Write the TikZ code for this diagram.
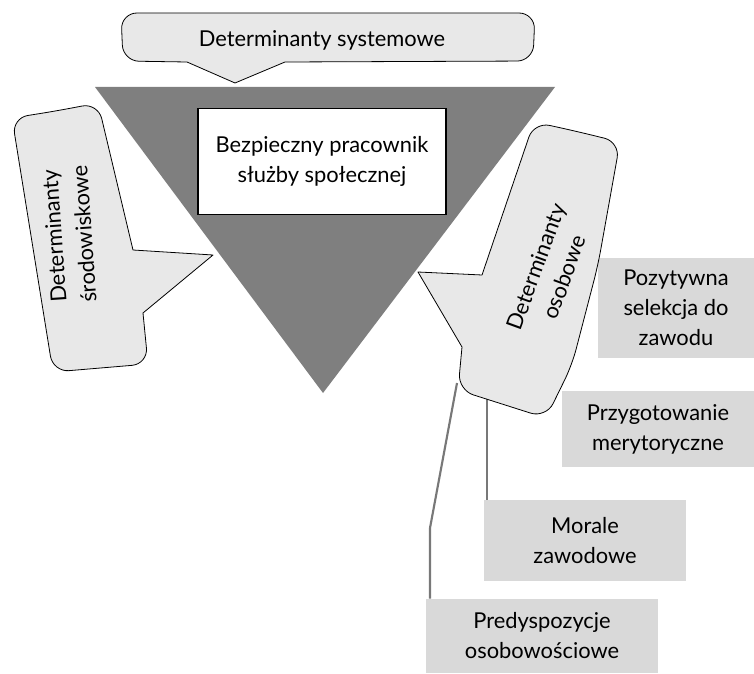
\documentclass[tikz,border=0pt]{standalone}
\usepackage{fontspec}
\setmainfont{Lato}
\usetikzlibrary{positioning,calc}
\definecolor{trigray}{RGB}{127,127,127}
\definecolor{callfill}{RGB}{232,232,232}
\definecolor{boxgray}{RGB}{217,217,217}
\definecolor{linegray}{RGB}{120,120,120}

\begin{document}
\begin{tikzpicture}[x=0.75pt,y=-0.75pt,
    txt/.style={align=center, font=\fontsize{16.4}{22.5}\selectfont},
    callout/.style={draw=black, fill=callfill, line width=0.6pt, line join=round},
    factor/.style={fill=boxgray, txt, inner sep=0pt},
    link/.style={draw=linegray, line width=1.6pt}]
  \useasboundingbox (0,0) rectangle (754,674);

  % triangle
  \fill[trigray] (95,87) -- (555,87) -- (323,393) -- cycle;

  % top callout
  \draw[callout] (330,13) [rounded corners=12pt] -- (535,13) -- (533,61)
    [sharp corners] -- (285,62) -- (235,83) -- (187,62)
    [rounded corners=12pt] -- (123,61) -- (121,13) -- cycle;
  \node[txt] (sys) at (322,40) {Determinanty systemowe};

  % central box
  \node[txt, draw=black, fill=white, line width=0.8pt,
        minimum width=186pt, minimum height=80pt] (worker) at (322,161.5)
    {Bezpieczny pracownik\\służby społecznej};

  % left callout
  \draw[callout] (56,111) [rounded corners=12pt] -- (98,103)
    [sharp corners] -- (133,250) -- (213,255) -- (143,313)
    [rounded corners=12pt] -- (148,364) -- (53,372) -- (12,118) -- cycle;
  \node[txt, rotate=94] (env) at (69,235) {Determinanty\\środowiskowe};

  % factor boxes
  \node[factor, minimum width=117pt, minimum height=75pt] (pos) at (676,308)
    {Pozytywna\\selekcja do\\zawodu};
  \node[factor, minimum width=144pt, minimum height=57pt] (prz) at (658,429)
    {Przygotowanie\\merytoryczne};
  \node[factor, minimum width=151.5pt, minimum height=60.75pt] (mor) at (585,540.5)
    {Morale\\zawodowe};
  \node[factor, minimum width=174pt, minimum height=55.5pt] (pred) at (542,636)
    {Predyspozycje\\osobowościowe};

  % connectors
  \coordinate (cb1) at (487,398);
  \coordinate (cb2) at (457,383);
  \coordinate (bend) at (430,528);
  \draw[link] (cb1) -- (cb1 |- mor.north);
  \draw[link] (cb2) -- (bend) -- (bend |- pred.north);

  % right callout
  \draw[callout] (575,131) [rounded corners=12pt] -- (620,142) -- (598,265)
    -- (572,365) -- (546,418) -- (458,390)
    [sharp corners] -- (462,347) -- (418,272) -- (482,275)
    [rounded corners=12pt] -- (534,122) -- cycle;
  \node[txt, rotate=70] (pers) at (550,272) {Determinanty\\osobowe};
\end{tikzpicture}
\end{document}
